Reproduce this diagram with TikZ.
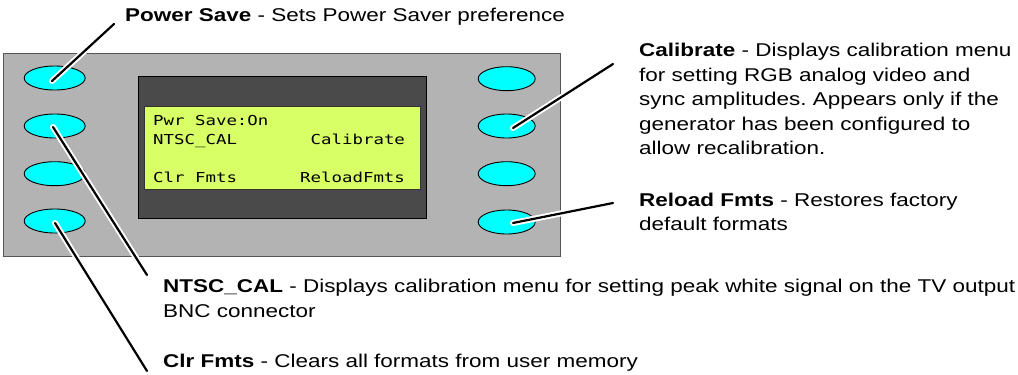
\documentclass[tikz,border=0pt]{standalone}
\usepackage{fontspec}
\setmainfont[FakeStretch=1.215]{Liberation Sans}
\newfontfamily\lcdfont[FakeStretch=1.27]{DejaVu Sans Mono}
\usetikzlibrary{shapes.geometric}
\definecolor{panelgray}{HTML}{B3B3B3}
\definecolor{paneledge}{HTML}{555555}
\definecolor{screengray}{HTML}{4A4A4A}
\definecolor{lcdgreen}{HTML}{D9FF66}
\definecolor{keycyan}{HTML}{00FFFF}
\frenchspacing
\begin{document}
\begin{tikzpicture}[x=1pt,y=-1pt,
  keyL/.style={ellipse,draw=black,line width=0.9pt,fill=keycyan,minimum width=61,minimum height=24,inner sep=0pt},
  keyR/.style={ellipse,draw=black,line width=0.9pt,fill=keycyan,minimum width=57,minimum height=24,inner sep=0pt},
  lcdtext/.style={anchor=base west,inner sep=0pt,font=\lcdfont\fontsize{13.7}{16}\selectfont},
  note/.style={anchor=base west,inner sep=0pt,align=left,font=\fontsize{18.5}{24.5}\selectfont},
  halo/.style={white,line width=6pt,line cap=round},
  leader/.style={black,line width=2.2pt,line cap=round}]
\useasboundingbox (0,0) rectangle (1018,375);
% panel
\draw[paneledge,fill=panelgray,line width=1pt] (3.5,53) rectangle (560,256);
% screen
\draw[black,fill=screengray,line width=1pt] (138,76) rectangle (426,218);
\draw[black!80,fill=lcdgreen,line width=1pt] (144,106) rectangle (420,189);
% LCD text
\node[lcdtext] (l1) at (153,125) {Pwr Save:On};
\node[lcdtext] (l2) at (153,144) {NTSC\_CAL};
\node[lcdtext] (l3) at (310.5,144) {Calibrate};
\node[lcdtext] (l4) at (153,182.7) {Clr Fmts};
\node[lcdtext] (l5) at (300,182.7) {ReloadFmts};
% keys
\node[keyL] (b1) at (54.7,78) {};
\node[keyL] (b2) at (54.7,126) {};
\node[keyL] (b3) at (54.7,173.7) {};
\node[keyL] (b4) at (54.7,221) {};
\node[keyR] (r1) at (506.7,78.7) {};
\node[keyR] (r2) at (506.7,126) {};
\node[keyR] (r3) at (506.7,173.7) {};
\node[keyR] (r4) at (506.7,222) {};
% notes (base anchor = baseline of the last line)
\node[note] (tps) at (125,21) {\textbf{Power Save} - Sets Power Saver preference};
\node[note] (tcal) at (639,154.5) {\textbf{Calibrate} - Displays calibration menu\\for setting RGB analog video and\\sync amplitudes. Appears only if the\\generator has been configured to\\allow recalibration.};
\node[note] (trel) at (639,230.5) {\textbf{Reload Fmts} - Restores factory\\default formats};
\node[note] (tntsc) at (163,317) {\textbf{NTSC\_CAL} - Displays calibration menu for setting peak white signal on the TV output\\BNC connector};
\node[note] (tclr) at (163,367) {\textbf{Clr Fmts} - Clears all formats from user memory};
% leader end points
\coordinate (eps) at (114,24);
\coordinate (ecal) at (613,64);
\coordinate (erel) at (613,203);
\coordinate (entsc) at (147,275);
\coordinate (eclr) at (147,371);
\coordinate (sps) at ([shift={(-2.7,3)}]b1.center);
\coordinate (sntsc) at ([shift={(-1.7,1)}]b2.center);
\coordinate (sclr) at ([shift={(0.3,2)}]b4.center);
\coordinate (scal) at ([shift={(6.3,2)}]r2.center);
\coordinate (srel) at ([shift={(6.3,1)}]r4.center);
% leaders
\foreach \s/\e in {sps/eps,sntsc/entsc,sclr/eclr,scal/ecal,srel/erel}{
  \draw[halo] (\s) -- (\e);
}
\foreach \s/\e in {sps/eps,sntsc/entsc,sclr/eclr,scal/ecal,srel/erel}{
  \draw[leader] (\s) -- (\e);
}
\end{tikzpicture}
\end{document}
